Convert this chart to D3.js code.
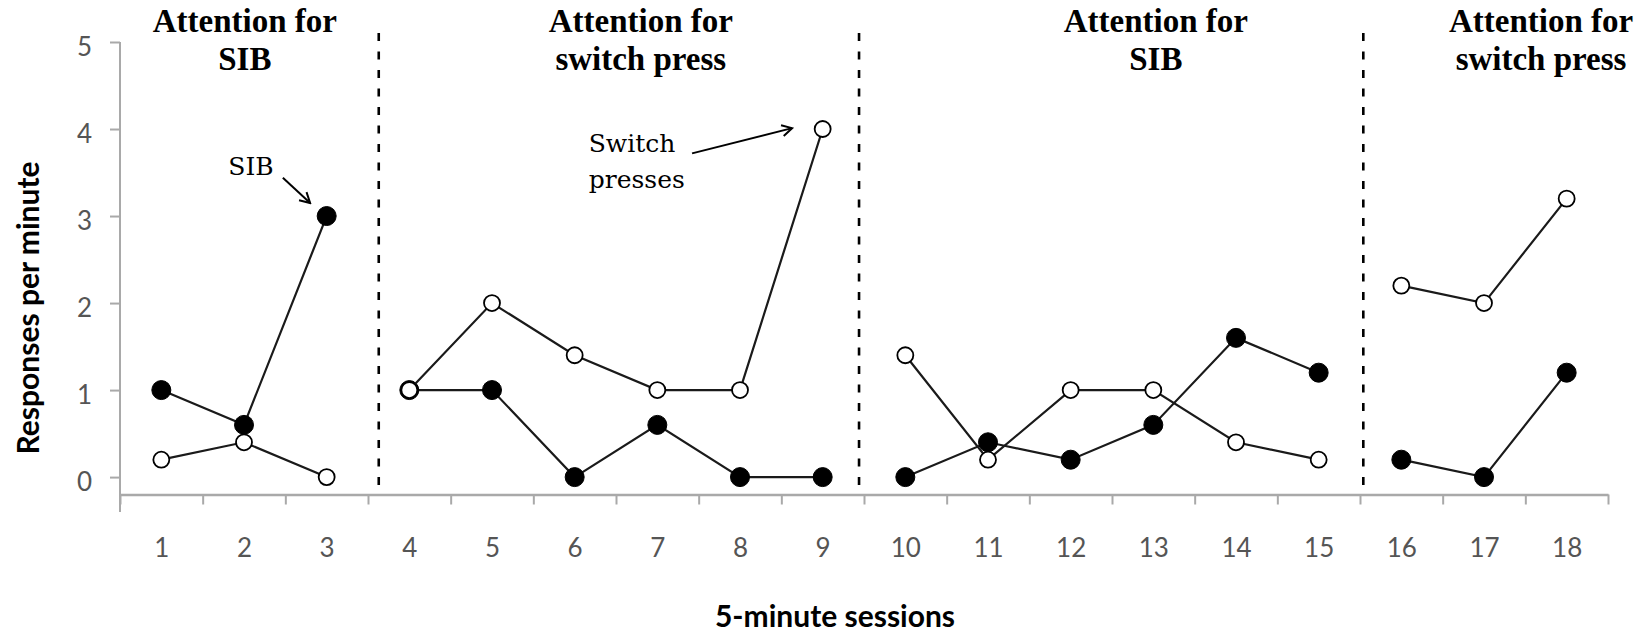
<!DOCTYPE html>
<html>
  <head>
    <meta charset="utf-8">
    <style>
      body { margin: 0; background: #fff; }
      svg { display: block; }
      .tick text { font-family: Lato, "Open Sans", sans-serif; }
    </style>
  </head>
  <body>
    <svg id="chart" width="1646" height="634"></svg>

    <script src="https://cdnjs.cloudflare.com/ajax/libs/d3/7.8.5/d3.min.js"></script>
    <script type="text/javascript">
      // data
      var sessions = [1, 2, 3, 4, 5, 6, 7, 8, 9, 10, 11, 12, 13, 14, 15, 16, 17, 18];
      var sibRate = [1.0, 0.6, 3.0, 1.0, 1.0, 0, 0.6, 0, 0, 0, 0.4, 0.2, 0.6, 1.6, 1.2, 0.2, 0, 1.2];
      var switchRate = [0.2, 0.4, 0, 1.0, 2.0, 1.4, 1.0, 1.0, 4.0, 1.4, 0.2, 1.0, 1.0, 0.4, 0.2, 2.2, 2.0, 3.2];
      var phaseFirst = [1, 4, 10, 16];
      var phaseLast = [3, 9, 15, 18];
      var phaseTitles = [
        ["Attention for", "SIB"],
        ["Attention for", "switch press"],
        ["Attention for", "SIB"],
        ["Attention for", "switch press"]
      ];
      var phaseLines = [3.63, 9.44, 15.54];
      var yTicks = [0, 1, 2, 3, 4, 5];

      // where the hand placed labels sit, in session / rate units
      var titleCenters = [2.01, 6.80, 13.03, 17.69];
      var notes = [
        { lines: ["SIB"], x: 2.085, y: 3.47, anchor: "middle", from: [2.47, 3.44], to: [2.80, 3.15] },
        { lines: ["Switch", "presses"], x: 6.17, y: 3.74, anchor: "start", from: [7.42, 3.72], to: [8.63, 4.01] }
      ];

      var svg = d3.select("#chart");

      var x = d3.scaleLinear().domain([0.5, 18.5]).range([120, 1608]);
      var y = d3.scaleLinear().domain([-0.2, 5]).range([494.5, 42]);

      var axisGray = "#a9a9a9";

      // arrow head
      svg.append("defs").append("marker")
        .attr("id", "arrow")
        .attr("viewBox", "0 0 14 14")
        .attr("refX", 12)
        .attr("refY", 7)
        .attr("markerWidth", 14)
        .attr("markerHeight", 14)
        .attr("markerUnits", "userSpaceOnUse")
        .attr("orient", "auto")
        .append("path")
        .attr("d", "M2,1.5 L12,7 L2,12.5")
        .attr("fill", "none")
        .attr("stroke", "#000")
        .attr("stroke-width", 2);

      // y axis
      var yAxis = svg.append("g")
        .attr("transform", "translate(" + x(0.5) + ",0)")
        .call(d3.axisLeft(y).tickValues(yTicks).tickFormat(d3.format("d")).tickSize(10).tickPadding(18));
      yAxis.select(".domain").remove();
      yAxis.selectAll(".tick line").attr("stroke", axisGray).attr("stroke-width", 2);
      yAxis.selectAll(".tick text")
        .attr("dy", "0.52em")
        .attr("fill", "#555")
        .style("font-size", "26px");
      svg.append("line")
        .attr("x1", x(0.5)).attr("x2", x(0.5))
        .attr("y1", y(5)).attr("y2", 512)
        .attr("stroke", axisGray)
        .attr("stroke-width", 2);

      // x axis: ticks on category boundaries, labels at centres
      var bounds = sessions.map(function(s) { return s - 0.5; }).concat([18.5]);
      var xTicks = svg.append("g")
        .attr("transform", "translate(0," + y(-0.2) + ")")
        .call(d3.axisBottom(x).tickValues(bounds).tickFormat("").tickSize(10).tickSizeOuter(0));
      xTicks.select(".domain").attr("stroke", axisGray).attr("stroke-width", 2.6);
      xTicks.selectAll(".tick line").attr("stroke", axisGray).attr("stroke-width", 2);

      var xLabels = svg.append("g")
        .attr("transform", "translate(0," + y(-0.2) + ")")
        .call(d3.axisBottom(x).tickValues(sessions).tickFormat(d3.format("d")).tickSize(0));
      xLabels.select(".domain").remove();
      xLabels.selectAll(".tick text")
        .attr("y", 62)
        .attr("dy", 0)
        .attr("fill", "#555")
        .style("font-size", "26px");

      // axis titles
      svg.append("text")
        .attr("transform", "translate(39," + 308 + ") rotate(-90)")
        .attr("text-anchor", "middle")
        .style("font-family", "Lato, sans-serif")
        .style("font-weight", "bold")
        .style("font-size", "30px")
        .text("Responses per minute");

      svg.append("text")
        .attr("x", 835)
        .attr("y", 627)
        .attr("text-anchor", "middle")
        .style("font-family", "Lato, sans-serif")
        .style("font-weight", "bold")
        .style("font-size", "30px")
        .text("5-minute sessions");

      // phase change lines
      svg.selectAll(".phase-line")
        .data(phaseLines)
        .enter().append("line")
        .attr("class", "phase-line")
        .attr("x1", function(d) { return x(d); })
        .attr("x2", function(d) { return x(d); })
        .attr("y1", 33)
        .attr("y2", y(-0.2))
        .attr("stroke", "#000")
        .attr("stroke-width", 2.6)
        .attr("stroke-dasharray", "8,10.5");

      // phase titles
      var titles = svg.selectAll(".phase-title")
        .data(phaseTitles)
        .enter().append("text")
        .attr("class", "phase-title")
        .attr("text-anchor", "middle")
        .style("font-family", "'Liberation Serif', 'Times New Roman', serif")
        .style("font-weight", "bold")
        .style("font-size", "33px");
      titles.selectAll("tspan")
        .data(function(d, i) { return d.map(function(t) { return { t: t, i: i }; }); })
        .enter().append("tspan")
        .attr("x", function(d) { return x(titleCenters[d.i]); })
        .attr("y", function(d, j) { return j === 0 ? 32 : 70; })
        .text(function(d) { return d.t; });

      // series, broken at each phase change
      var line = d3.line()
        .x(function(d) { return x(d.s); })
        .y(function(d) { return y(d.v); });

      function drawSeries(values, filled) {
        var pts = sessions.map(function(s, i) { return { s: s, v: values[i] }; });
        phaseFirst.forEach(function(first, p) {
          var seg = pts.filter(function(d) { return d.s >= first && d.s <= phaseLast[p]; });
          svg.append("path")
            .datum(seg)
            .attr("d", line)
            .attr("fill", "none")
            .attr("stroke", "#1a1a1a")
            .attr("stroke-width", 2.2);
        });
        svg.append("g").selectAll("circle")
          .data(pts)
          .enter().append("circle")
          .attr("cx", function(d) { return x(d.s); })
          .attr("cy", function(d) { return y(d.v); })
          .attr("r", filled ? 9.5 : 8)
          .attr("fill", filled ? "#000" : "#fff")
          .attr("stroke", "#000")
          .attr("stroke-width", filled ? 1 : 1.8);
      }

      drawSeries(sibRate, true);
      drawSeries(switchRate, false);

      // annotations
      notes.forEach(function(n) {
        var t = svg.append("text")
          .attr("text-anchor", n.anchor)
          .style("font-family", "'DejaVu Serif', serif")
          .style("font-size", "25px");
        n.lines.forEach(function(l, j) {
          t.append("tspan")
            .attr("x", x(n.x))
            .attr("y", y(n.y) + j * 36)
            .text(l);
        });
        svg.append("line")
          .attr("x1", x(n.from[0])).attr("y1", y(n.from[1]))
          .attr("x2", x(n.to[0])).attr("y2", y(n.to[1]))
          .attr("stroke", "#000")
          .attr("stroke-width", 2)
          .attr("marker-end", "url(#arrow)");
      });
    </script>
  </body>
</html>
